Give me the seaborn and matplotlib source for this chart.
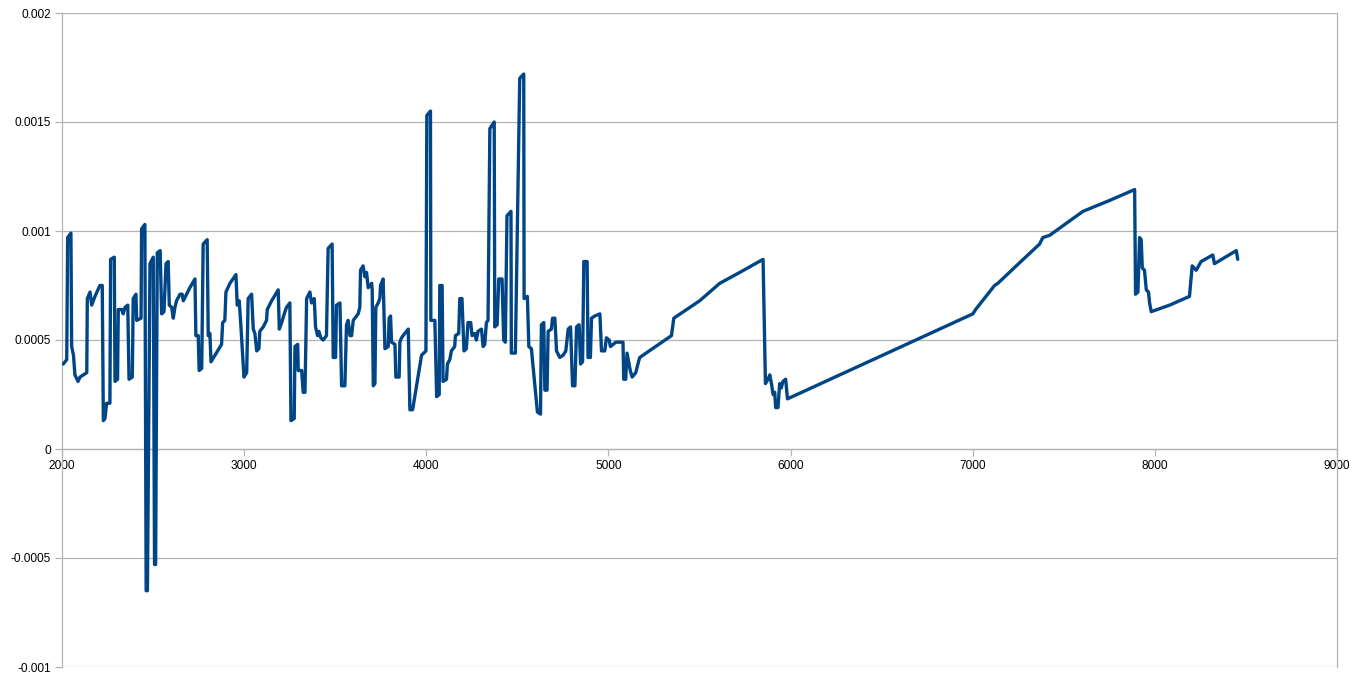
import numpy as np
import pandas as pd
import matplotlib
matplotlib.use("Agg")
import matplotlib.pyplot as plt
import seaborn as sns

# %% Datos

x_vals = [
    2007, 2026, 2031, 2049, 2053, 2063, 2071, 2088, 2099, 2136,
    2139, 2154, 2163, 2181, 2208, 2221, 2227, 2236, 2245, 2263,
    2267, 2287, 2291, 2305, 2309, 2328, 2336, 2346, 2361, 2368,
    2386, 2391, 2406, 2410, 2434, 2437, 2455, 2462, 2469, 2483,
    2501, 2508, 2514, 2523, 2539, 2547, 2560, 2571, 2583, 2589,
    2602, 2611, 2620, 2629, 2648, 2660, 2666, 2684, 2702, 2730,
    2735, 2748, 2753, 2767, 2775, 2797, 2803, 2812, 2818, 2876,
    2882, 2894, 2900, 2922, 2955, 2962, 2973, 2981, 2999, 3014,
    3022, 3041, 3050, 3059, 3069, 3081, 3086, 3105, 3123, 3127,
    3151, 3187, 3193, 3206, 3224, 3233, 3251, 3257, 3275, 3279,
    3294, 3297, 3316, 3324, 3334, 3343, 3361, 3370, 3385, 3392,
    3403, 3410, 3421, 3434, 3452, 3461, 3483, 3489, 3502, 3507,
    3526, 3535, 3553, 3562, 3571, 3581, 3590, 3599, 3626, 3635,
    3639, 3653, 3663, 3672, 3681, 3700, 3703, 3709, 3718, 3723,
    3736, 3745, 3749, 3763, 3773, 3791, 3796, 3804, 3809, 3828,
    3833, 3851, 3855, 3864, 3873, 3882, 3901, 3910, 3925, 3974,
    3998, 4003, 4023, 4025, 4047, 4057, 4071, 4074, 4087, 4092,
    4111, 4116, 4129, 4138, 4156, 4160, 4178, 4184, 4196, 4207,
    4220, 4229, 4244, 4251, 4266, 4275, 4284, 4303, 4312, 4321,
    4330, 4339, 4349, 4373, 4376, 4389, 4398, 4416, 4425, 4434,
    4443, 4465, 4467, 4489, 4513, 4535, 4537, 4555, 4563, 4577,
    4610, 4627, 4632, 4645, 4651, 4663, 4669, 4687, 4693, 4706,
    4715, 4733, 4751, 4766, 4779, 4792, 4803, 4816, 4825, 4839,
    4847, 4858, 4865, 4883, 4888, 4901, 4907, 4925, 4953, 4962,
    4980, 4989, 5004, 5011, 5026, 5040, 5053, 5080, 5084, 5095,
    5102, 5113, 5120, 5130, 5150, 5165, 5172, 5346, 5359, 5501,
    5611, 5721, 5849, 5862, 5876, 5886, 5895, 5904, 5913, 5918,
    5931, 5940, 5949, 5958, 5973, 5983, 7001, 7016, 7120, 7138,
    7239, 7367, 7385, 7422, 7605, 7751, 7889, 7894, 7907, 7916,
    7925, 7931, 7943, 7953, 7965, 7971, 7980, 8081, 8190, 8205,
    8227, 8254, 8318, 8327, 8447, 8455,
]

y_vals = [
    0.00039, 0.00041, 0.00097, 0.00099, 0.00047, 0.00043, 0.00034, 0.00031, 0.00033, 0.00035,
    0.00069, 0.00072, 0.00066, 0.00070, 0.00075, 0.00075, 0.00013, 0.00014, 0.00021, 0.00021,
    0.00087, 0.00088, 0.00031, 0.00032, 0.00064, 0.00064, 0.00062, 0.00065, 0.00066, 0.00032,
    0.00033, 0.00069, 0.00071, 0.00059, 0.00060, 0.00101, 0.00103, -0.00065, -0.00065, 0.00085,
    0.00088, -0.00053, -0.00053, 0.00090, 0.00091, 0.00062, 0.00063, 0.00085, 0.00086, 0.00066,
    0.00065, 0.00060, 0.00065, 0.00068, 0.00071, 0.00071, 0.00068, 0.00071, 0.00074, 0.00078,
    0.00052, 0.00052, 0.00036, 0.00037, 0.00094, 0.00096, 0.00052, 0.00053, 0.00040, 0.00048,
    0.00058, 0.00059, 0.00072, 0.00076, 0.00080, 0.00066, 0.00068, 0.00058, 0.00033, 0.00035,
    0.00069, 0.00071, 0.00055, 0.00053, 0.00045, 0.00046, 0.00054, 0.00056, 0.00059, 0.00064,
    0.00068, 0.00073, 0.00055, 0.00058, 0.00063, 0.00065, 0.00067, 0.00013, 0.00014, 0.00047,
    0.00048, 0.00036, 0.00036, 0.00026, 0.00026, 0.00069, 0.00072, 0.00067, 0.00069, 0.00056,
    0.00052, 0.00054, 0.00051, 0.00050, 0.00052, 0.00092, 0.00094, 0.00042, 0.00042, 0.00066,
    0.00067, 0.00029, 0.00029, 0.00057, 0.00059, 0.00052, 0.00052, 0.00059, 0.00062, 0.00065,
    0.00082, 0.00084, 0.00079, 0.00081, 0.00074, 0.00076, 0.00073, 0.00029, 0.00030, 0.00065,
    0.00067, 0.00069, 0.00075, 0.00078, 0.00046, 0.00047, 0.00060, 0.00061, 0.00049, 0.00048,
    0.00033, 0.00033, 0.00049, 0.00051, 0.00052, 0.00053, 0.00055, 0.00018, 0.00018, 0.00043,
    0.00045, 0.00153, 0.00155, 0.00059, 0.00059, 0.00024, 0.00025, 0.00075, 0.00075, 0.00031,
    0.00032, 0.00039, 0.00041, 0.00045, 0.00047, 0.00052, 0.00053, 0.00069, 0.00069, 0.00045,
    0.00046, 0.00058, 0.00058, 0.00052, 0.00053, 0.00050, 0.00054, 0.00055, 0.00047, 0.00048,
    0.00058, 0.00059, 0.00147, 0.00150, 0.00056, 0.00057, 0.00078, 0.00078, 0.00050, 0.00049,
    0.00107, 0.00109, 0.00044, 0.00044, 0.00170, 0.00172, 0.00069, 0.00070, 0.00047, 0.00046,
    0.00017, 0.00016, 0.00057, 0.00058, 0.00027, 0.00027, 0.00054, 0.00055, 0.00060, 0.00060,
    0.00045, 0.00042, 0.00043, 0.00045, 0.00055, 0.00056, 0.00029, 0.00029, 0.00056, 0.00057,
    0.00039, 0.00040, 0.00086, 0.00086, 0.00042, 0.00042, 0.00060, 0.00061, 0.00062, 0.00045,
    0.00045, 0.00051, 0.00050, 0.00047, 0.00048, 0.00049, 0.00049, 0.00049, 0.00032, 0.00032,
    0.00044, 0.00039, 0.00036, 0.00033, 0.00035, 0.00040, 0.00042, 0.00052, 0.00060, 0.00068,
    0.00076, 0.00081, 0.00087, 0.00030, 0.00032, 0.00034, 0.00030, 0.00025, 0.00026, 0.00019,
    0.00019, 0.00030, 0.00028, 0.00031, 0.00032, 0.00023, 0.00062, 0.00064, 0.00075, 0.00076,
    0.00084, 0.00094, 0.00097, 0.00098, 0.00109, 0.00114, 0.00119, 0.00071, 0.00072, 0.00097,
    0.00096, 0.00083, 0.00082, 0.00073, 0.00072, 0.00067, 0.00063, 0.00066, 0.00070, 0.00084,
    0.00082, 0.00086, 0.00089, 0.00085, 0.00091, 0.00087,
]

x_ticks = [2000, 3000, 4000, 5000, 6000, 7000, 8000, 9000]
y_ticks = [-0.001, -0.0005, 0, 0.0005, 0.001, 0.0015, 0.002]
y_tick_labels = ["-0.001", "-0.0005", "0", "0.0005", "0.001", "0.0015", "0.002"]

# %% Grafico

sns.set_theme(style="white")
plt.rcParams['font.family'] = ['Liberation Sans', 'DejaVu Sans']

df = pd.DataFrame({'x': x_vals, 'y': y_vals})

fig = plt.figure(figsize=(13.6, 6.84), dpi=100)
ax = fig.add_axes([62 / 1360, 17 / 684, (1337 - 62) / 1360, (667 - 13) / 684])

gris = '#b3b3b3'
sns.lineplot(data=df, x='x', y='y', sort=False, estimator=None, ax=ax,
             color='#004586', linewidth=2.4, solid_joinstyle='round', zorder=3)

ax.set_xlim(2000, 9000)
ax.set_ylim(-0.001, 0.002)
ax.set_xticks(x_ticks)
ax.set_yticks(y_ticks)
ax.set_yticklabels(y_tick_labels)
ax.set_xlabel('')
ax.set_ylabel('')

# lineas de grilla horizontales
ax.yaxis.grid(True, color=gris, linewidth=0.9)
ax.xaxis.grid(False)

# eje x cruzando en cero
ax.spines['bottom'].set_position(('data', 0))
for lado in ['bottom', 'left', 'right']:
    ax.spines[lado].set_color(gris)
    ax.spines[lado].set_linewidth(0.9)
ax.spines['top'].set_visible(False)

ax.tick_params(axis='both', which='major', direction='out', length=5, width=0.9,
               color=gris, labelsize=8.6, labelcolor='black', pad=3)
ax.tick_params(axis='x', bottom=True)
ax.tick_params(axis='y', left=True)

fig.savefig('out.png', dpi=100)
